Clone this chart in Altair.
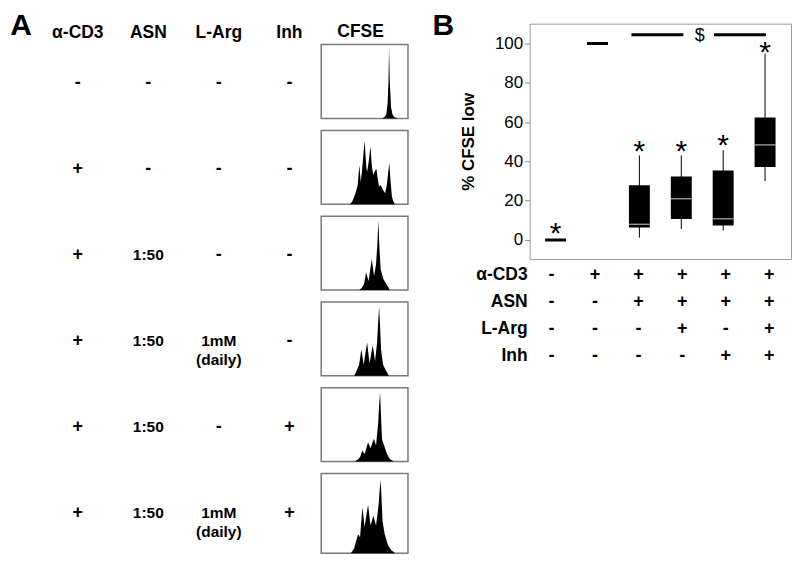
import altair as alt
import pandas as pd

FONT = "Liberation Sans"

# ---------------- Panel A : treatment table ----------------
a_headers = ["α-CD3", "ASN", "L-Arg", "Inh"]
a_cd3 = ["-", "+", "+", "+", "+", "+"]
a_asn = ["-", "-", "1:50", "1:50", "1:50", "1:50"]
a_larg = ["-", "-", "-", "1mM\n(daily)", "-", "1mM\n(daily)"]
a_inh = ["-", "-", "-", "-", "+", "+"]

# CFSE histograms (x: % of axis width, y: % of panel height)
hist1_x = [70, 73, 75, 76.5, 77.5, 78.2, 79, 80.5, 82, 84, 88]
hist1_y = [0, 2, 6, 20, 50, 95, 50, 15, 6, 2, 0]
hist2_x = [33, 36, 39, 42, 44, 45.5, 47, 50, 52, 53, 55, 56.7, 58.5, 60, 62, 63.6, 65, 66.7, 68.5, 70, 72, 73.6, 75.5, 78.5, 80, 81.5, 83, 85]
hist2_y = [0, 4, 13, 25, 53, 30, 45, 86, 50, 44, 60, 78, 50, 40, 45, 48, 35, 24, 26, 22, 18, 15, 25, 56, 30, 10, 4, 0]
hist3_x = [44, 47, 49.4, 51.7, 54.6, 58.3, 60.9, 63.2, 64.6, 65.9, 67.2, 68.5, 71.6, 75.5, 79]
hist3_y = [0, 3, 8, 24, 12, 42, 19, 35, 60, 94, 55, 28, 15, 7, 0]
hist4_x = [37.9, 40.6, 43.7, 46.3, 48.9, 52.9, 55.7, 59.4, 62.1, 64.4, 65.5, 66.7, 67.9, 69, 71.3, 74.1, 78]
hist4_y = [0, 6, 15, 36, 15, 45, 17, 41, 20, 45, 70, 94, 65, 35, 15, 8, 0]
hist5_x = [38.7, 42.5, 44.8, 47.5, 50, 54, 56.9, 60.6, 63.2, 65.5, 66.7, 67.8, 69, 70.1, 72.4, 75.9, 79.3, 83.9]
hist5_y = [0, 3, 6, 15, 10, 26, 18, 31, 22, 50, 75, 94, 60, 30, 22, 10, 3, 0]
hist6_x = [34.1, 37.9, 40.2, 42.5, 44.8, 47.5, 50, 54, 56.9, 60.1, 63.2, 66.1, 67.4, 68.6, 69.7, 70.7, 73.2, 77, 80.5, 85.4]
hist6_y = [0, 6, 15, 24, 20, 58, 33, 61, 35, 47, 35, 60, 80, 92, 65, 40, 24, 10, 4, 0]

# ---------------- Panel B : box plot ----------------
b_groups = [1, 2, 3, 4, 5, 6]
b_lo = [0, 100, 1.2, 5.6, 4.9, 30.0]
b_q1 = [0, 100, 6.3, 10.7, 7.4, 37.2]
b_med = [0, 100, 8.0, 21.0, 10.8, 48.4]
b_q3 = [0, 100, 27.9, 32.3, 35.4, 62.4]
b_hi = [0, 100, 43.0, 43.1, 45.7, 94.8]
star_groups = [1, 3, 4, 5, 6]
star_vals = [6.6, 48.2, 48.2, 51.3, 98.5]
sig_x1 = [2.81, 4.78]
sig_x2 = [4.05, 6.02]
sig_y = [104.5, 104.5]
dollar_x = [4.44]
dollar_y = [103.8]

b_labels = ["α-CD3", "ASN", "L-Arg", "Inh"]
b_cd3 = ["-", "+", "+", "+", "+", "+"]
b_asn = ["-", "-", "+", "+", "+", "+"]
b_larg = ["-", "-", "-", "+", "-", "+"]
b_inh = ["-", "-", "-", "-", "+", "+"]

# ---------------- build panel A table ----------------
recs = [{"t": "A", "c": -0.806, "r": -0.672, "fs": 30}]
for i, h in enumerate(a_headers):
    recs.append({"t": h, "c": i, "r": -0.585, "fs": 17.5})
for ci, col in enumerate([a_cd3, a_asn, a_larg, a_inh]):
    for ri, v in enumerate(col):
        recs.append({"t": v, "c": ci, "r": ri, "fs": 18 if v in "+-" else 15.5})
dfA = pd.DataFrame(recs)

tableA = alt.Chart(dfA).mark_text(
    font=FONT, fontWeight="bold", baseline="middle", lineBreak="\n", lineHeight=19, color="black"
).encode(
    x=alt.X("c:Q", scale=alt.Scale(domain=[-0.976, 3.310]), axis=None),
    y=alt.Y("r:Q", scale=alt.Scale(domain=[-0.858, 5.465], reverse=True), axis=None),
    text="t:N",
    size=alt.Size("fs:Q", scale=None, legend=None),
).properties(width=303, height=545)

spacerA = alt.Chart(pd.DataFrame({"t": ["CFSE"]})).mark_text(
    font=FONT, fontWeight="bold", fontSize=17.5, dx=-4, dy=10.5, color="black"
).encode(text="t:N").properties(width=87, height=23)


def hist(xs, ys, h):
    df = pd.DataFrame({"x": xs, "y": ys})
    return alt.Chart(df).mark_area(color="black", interpolate="linear").encode(
        x=alt.X("x:Q", scale=alt.Scale(domain=[0, 100]), axis=None),
        y=alt.Y("y:Q", scale=alt.Scale(domain=[0, 100]), axis=None),
    ).properties(width=87, height=h, view=alt.ViewBackground(stroke="#7a7a7a", strokeWidth=1.5))


hists = [
    hist(hist1_x, hist1_y, 74),
    hist(hist2_x, hist2_y, 74),
    hist(hist3_x, hist3_y, 74),
    hist(hist4_x, hist4_y, 74),
    hist(hist5_x, hist5_y, 74),
    hist(hist6_x, hist6_y, 80),
]
histCol = alt.vconcat(spacerA, *hists, spacing=12, bounds="flush")

# gap between the panels, carrying the "B" panel letter
midSpacer = alt.Chart(pd.DataFrame({"t": ["B"]})).mark_text(
    font=FONT, fontWeight="bold", fontSize=30, dx=18, dy=1.2, color="black"
).encode(text="t:N").properties(width=189, height=30)

# ---------------- build panel B ----------------
dfBox = pd.DataFrame({"g": b_groups, "lo": b_lo, "q1": b_q1, "med": b_med, "q3": b_q3, "hi": b_hi})
dfStar = pd.DataFrame({"g": star_groups, "v": star_vals})
dfSig = pd.DataFrame({"x1": sig_x1, "x2": sig_x2, "y": sig_y})
dfDollar = pd.DataFrame({"x": dollar_x, "y": dollar_y, "t": ["$"]})

xsc = alt.Scale(domain=[0.5, 6.5], nice=False, zero=False)
ysc = alt.Scale(domain=[-9.7, 110.1], nice=False, zero=False)
yaxis = alt.Axis(
    values=[0, 20, 40, 60, 80, 100], title="% CFSE low", titleFont=FONT, titleFontSize=17,
    titleFontWeight="bold", titleColor="black", labelFont=FONT, labelFontSize=17,
    labelColor="black", tickColor="#8a8a8a", tickSize=5, labelPadding=2, domain=False,
    grid=False, titlePadding=17,
)

base = alt.Chart(dfBox).encode(x=alt.X("g:Q", scale=xsc, axis=None))
whisk = base.mark_rule(color="black", strokeWidth=1).encode(
    y=alt.Y("lo:Q", scale=ysc, axis=yaxis), y2="hi:Q")
box = base.mark_bar(color="black", size=21).encode(y=alt.Y("q1:Q", scale=ysc), y2="q3:Q")
med_white = base.transform_filter("datum.q3 > datum.q1").mark_tick(
    color="#e8e8e8", thickness=1.3, size=21, orient="horizontal").encode(y=alt.Y("med:Q", scale=ysc))
med_black = base.transform_filter("datum.q3 <= datum.q1").mark_tick(
    color="black", thickness=3, size=21, orient="horizontal", opacity=1).encode(y=alt.Y("med:Q", scale=ysc))
stars = alt.Chart(dfStar).mark_text(
    text="*", font=FONT, fontSize=30, baseline="alphabetic", dy=16, color="black"
).encode(x=alt.X("g:Q", scale=xsc), y=alt.Y("v:Q", scale=ysc))
sig = alt.Chart(dfSig).mark_rule(color="black", strokeWidth=3).encode(
    x=alt.X("x1:Q", scale=xsc), x2="x2:Q", y=alt.Y("y:Q", scale=ysc))
dollar = alt.Chart(dfDollar).mark_text(font=FONT, fontSize=18, baseline="middle", color="black").encode(
    x=alt.X("x:Q", scale=xsc), y=alt.Y("y:Q", scale=ysc), text="t:N")

boxplot = alt.layer(whisk, box, med_white, med_black, stars, sig, dollar).properties(
    width=262, height=236, view=alt.ViewBackground(stroke="#9a9a9a", strokeWidth=1))

spacerB = alt.Chart(pd.DataFrame({"t": [" "]})).mark_text(
    font=FONT, fontSize=6, color="white"
).encode(text="t:N").properties(width=262, height=6)

recsB = []
for ri, lab in enumerate(b_labels):
    recsB.append({"t": lab, "x": 0.454, "r": ri, "fs": 17.5, "al": "right"})
for ri, row in enumerate([b_cd3, b_asn, b_larg, b_inh]):
    for gi, v in enumerate(row):
        recsB.append({"t": v, "x": b_groups[gi], "r": ri, "fs": 18, "al": "center"})
dfB = pd.DataFrame(recsB)

bx = alt.X("x:Q", scale=xsc, axis=None)
by = alt.Y("r:Q", scale=alt.Scale(domain=[-0.296, 3.407], reverse=True), axis=None)
tb_labels = alt.Chart(dfB).transform_filter("datum.al == 'right'").mark_text(
    font=FONT, fontWeight="bold", baseline="middle", align="right", color="black"
).encode(x=bx, y=by, text="t:N", size=alt.Size("fs:Q", scale=None, legend=None))
tb_signs = alt.Chart(dfB).transform_filter("datum.al == 'center'").mark_text(
    font=FONT, fontWeight="bold", baseline="middle", align="center", color="black"
).encode(x=bx, y=by, text="t:N", size=alt.Size("fs:Q", scale=None, legend=None))
tableB = alt.layer(tb_labels, tb_signs).properties(width=262, height=100)

panelB = alt.vconcat(spacerB, boxplot, tableB, spacing=8, bounds="flush")

chart = alt.hconcat(
    tableA, histCol, midSpacer, panelB, spacing=10, bounds="flush", padding=0,
    background="white",
).configure_view(stroke="transparent")

chart.save("out.html", embed_options={"renderer": "svg", "actions": False})
